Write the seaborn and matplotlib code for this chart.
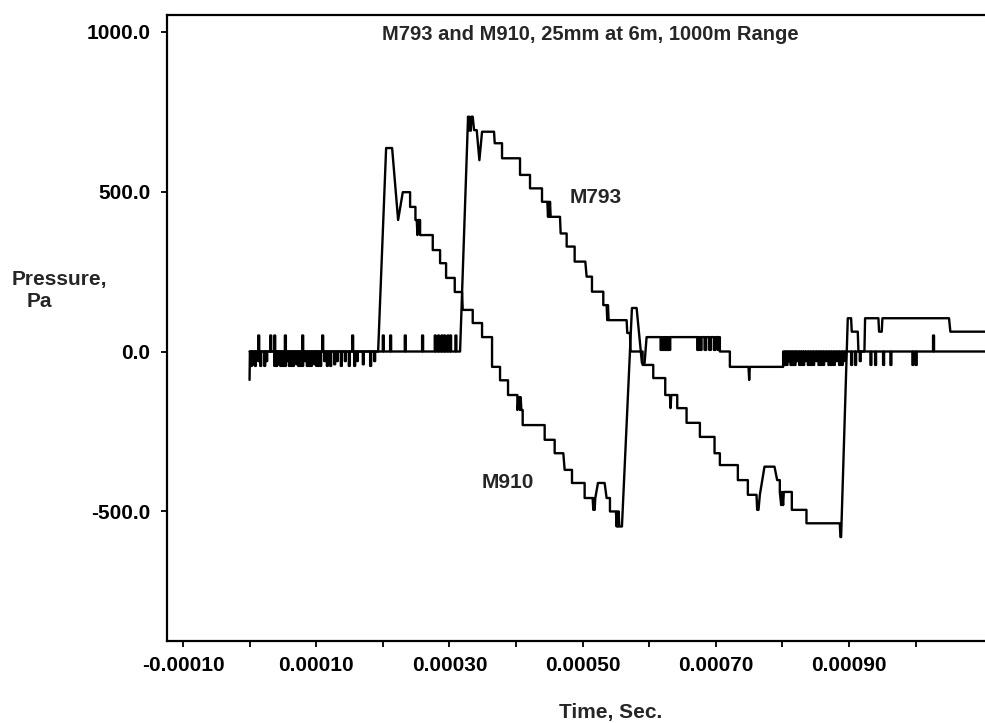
import numpy as np
import pandas as pd
import seaborn as sns
import matplotlib.pyplot as plt

# times in microseconds, pressures in Pa

# M910 - first arrival.  quiet record, then N-wave, then settling
m910_start_t = [0, 0.5]
m910_start_p = [-89, 0]
m910_quiet_spike_t = [2, 5, 8, 13, 16, 22, 25, 37, 40, 43, 46, 50, 53, 56, 59, 62, 65, 70, 73, 76,
                      79, 83, 86, 89, 92, 97, 100, 103, 106, 112, 116, 121, 127, 131, 137, 143, 149,
                      157, 161, 170, 181, 187]
m910_quiet_spike_p = [-45, -40, -45, -30, -45, -45, -30, -45, -45, -40, -45, -45, -45, -30, -45, -45,
                      -45, -40, -45, -45, -45, -30, -45, -45, -45, -40, -45, -45, -45, -30, -45, -45,
                      -40, -30, -45, -30, -45, -45, -30, -40, -45, -30]
m910_wave_t = [193, 205, 214, 223, 230, 241, 241, 249, 249, 251, 252, 253, 256, 256, 275, 275, 286,
               286, 295, 295, 308, 308, 319, 320, 335, 335, 349, 349, 364, 364, 376, 376, 388, 388,
               402, 402, 405, 406, 407, 408, 410, 410, 443, 443, 458, 458, 471, 473, 484, 484, 503,
               503, 515, 516, 517, 518, 519, 523, 533, 536, 541, 541, 550, 551, 552, 553, 554, 555,
               559, 574, 581, 586, 589, 593, 596, 616]
m910_wave_p = [0, 636, 636, 411, 498, 498, 452, 452, 411, 411, 364, 411, 411, 364, 364, 317, 317,
               276, 276, 230, 230, 186, 186, 130, 130, 89, 89, 45, 45, -48, -48, -90, -90, -136,
               -136, -183, -143, -183, -143, -183, -183, -230, -230, -276, -276, -318, -318, -370,
               -370, -411, -411, -458, -458, -495, -458, -495, -458, -411, -411, -458, -458, -500,
               -500, -547, -500, -547, -500, -547, -547, 136, 136, 30, -36, -36, 45, 45]
m910_hold_spike_t = [617, 620, 623, 626, 629, 672, 676, 683, 690, 697, 703]
m910_hold_spike_p = [5, 5, 5, 5, 5, 5, 5, 5, 5, 5, 5]
m910_mid_t = [706, 706, 721, 721, 749, 750, 751, 801, 801]
m910_mid_p = [45, 0, 0, -48, -48, -89, -48, -48, 0]
m910_late_spike_t = [803, 806, 809, 812, 815, 818, 821, 825, 828, 831, 834, 838, 842, 846, 850, 854,
                     857, 861, 865, 869, 873, 877, 881, 885, 889, 893, 903, 909, 916]
m910_late_spike_p = [-42, -42, -30, -42, -42, -42, -30, -42, -42, -42, -30, -42, -42, -42, -30, -42,
                     -42, -42, -30, -42, -42, -42, -30, -42, -42, -30, -42, -42, -30]
m910_end_t = [923, 924, 944, 945, 949, 950, 1050, 1052, 1110]
m910_end_p = [0, 104, 104, 62, 62, 104, 104, 62, 62]

# M793 - second arrival
m793_quiet_spike_t = [13, 31, 37, 53, 79, 109, 154, 200, 211, 233, 259, 278, 283, 288, 292, 297,
                      301, 309]
m793_quiet_spike_p = [50, 50, 50, 50, 50, 50, 50, 50, 50, 50, 50, 50, 50, 50, 50, 50, 50, 50]
m793_wave_t = [316, 328, 329, 330, 332, 333, 335, 337, 341, 345, 349, 367, 368, 379, 379, 406, 406,
               421, 421, 439, 439, 447, 448, 449, 450, 451, 452, 466, 467, 476, 476, 488, 488, 504,
               506, 514, 514, 531, 531, 536, 537, 538, 539, 566, 567, 571, 572, 590, 590, 606, 606,
               624, 624, 631, 632, 633, 642, 642, 656, 656, 676, 676, 698, 698, 706, 706, 733, 733,
               748, 748, 761, 762, 764, 766, 773, 788, 792, 796, 796, 798, 799, 801, 802, 814, 814,
               836, 836, 886, 887, 888, 898, 903, 904, 913, 914]
m793_wave_p = [0, 734, 690, 734, 690, 734, 734, 692, 692, 598, 687, 687, 651, 651, 604, 604, 552,
               552, 510, 510, 468, 468, 421, 468, 421, 468, 421, 421, 369, 369, 328, 328, 281, 281,
               234, 234, 187, 187, 145, 145, 98, 145, 98, 98, 58, 58, 0, 0, -42, -42, -83, -83,
               -136, -136, -177, -136, -136, -177, -177, -223, -223, -267, -267, -318, -318, -355,
               -355, -402, -402, -448, -448, -495, -495, -448, -360, -360, -402, -402, -439, -480,
               -439, -480, -439, -439, -495, -495, -537, -537, -580, -580, 104, 104, 62, 62, 0]
m793_late_spike_t = [932, 939, 951, 962, 995, 1000, 1026]
m793_late_spike_p = [-42, -42, -42, -42, -42, -42, 50]

x_ticks = [-100, 0, 100, 200, 300, 400, 500, 600, 700, 800, 900, 1000]
y_ticks = [-500, 0, 500, 1000]


def flat_with_spikes(t0, t1, level, spike_t, spike_p, width=1.5):
    ts, ps = [t0], [level]
    for st, sp in zip(spike_t, spike_p):
        ts += [st, st, st + width, st + width]
        ps += [level, sp, sp, level]
    ts.append(t1)
    ps.append(level)
    return ts, ps


def build_m910():
    t, p = list(m910_start_t), list(m910_start_p)
    a, b = flat_with_spikes(0.5, 193, 0, m910_quiet_spike_t, m910_quiet_spike_p)
    t += a; p += b
    t += m910_wave_t; p += m910_wave_p
    a, b = flat_with_spikes(616, 706, 45, m910_hold_spike_t, m910_hold_spike_p, width=2.5)
    t += a; p += b
    t += m910_mid_t; p += m910_mid_p
    a, b = flat_with_spikes(801, 923, 0, m910_late_spike_t, m910_late_spike_p)
    t += a; p += b
    t += m910_end_t; p += m910_end_p
    return t, p


def build_m793():
    t, p = flat_with_spikes(0, 316, 0, m793_quiet_spike_t, m793_quiet_spike_p)
    t += m793_wave_t; p += m793_wave_p
    a, b = flat_with_spikes(914, 1110, 0, m793_late_spike_t, m793_late_spike_p)
    t += a; p += b
    return t, p


frames = []
for name, fn in [("M910", build_m910), ("M793", build_m793)]:
    t, p = fn()
    frames.append(pd.DataFrame({"time": np.array(t) / 1e6, "pressure": p, "round": name}))
df = pd.concat(frames, ignore_index=True)

sns.set_theme(style="ticks")
plt.rcParams["font.family"] = ["Liberation Sans", "DejaVu Sans"]

fig = plt.figure(figsize=(9.85, 7.23), dpi=100)
ax = fig.add_axes([0.1695, 0.1134, 0.8305, 0.8659])

for name, g in df.groupby("round", sort=False):
    sns.lineplot(data=g, x="time", y="pressure", sort=False, estimator=None,
                 color="black", lw=1.7, ax=ax, legend=False)

ax.set_xlim(-124e-6, 1104e-6)
ax.set_ylim(-905, 1052)

ax.set_xticks([v / 1e6 for v in x_ticks])
ax.set_xticklabels(["{:.5f}".format(v / 1e6) if i % 2 == 0 else "" for i, v in enumerate(x_ticks)])
ax.set_yticks(y_ticks)
ax.set_yticklabels(["{:.1f}".format(v) for v in y_ticks])
ax.tick_params(axis="both", direction="out", length=4, width=1.3, colors="black", labelsize=15)
ax.tick_params(axis="x", pad=7)
ax.tick_params(axis="y", pad=8)
for lab in ax.get_xticklabels() + ax.get_yticklabels():
    lab.set_fontweight("bold")

for side in ["left", "bottom", "top"]:
    ax.spines[side].set_linewidth(1.6)
    ax.spines[side].set_color("black")
ax.spines["right"].set_visible(False)
ax.set_xlabel("")
ax.set_ylabel("")

ax.text(0.518, 0.968, "M793 and M910, 25mm at 6m, 1000m Range", transform=ax.transAxes,
        ha="center", va="center", fontsize=14.5, fontweight="bold")
ax.text(520e-6, 481, "M793", ha="center", va="center", fontsize=15, fontweight="bold")
ax.text(388e-6, -411, "M910", ha="center", va="center", fontsize=15, fontweight="bold")

fig.text(12 / 985, 1 - 280 / 723, "Pressure,", ha="left", va="center", fontsize=15, fontweight="bold")
fig.text(27 / 985, 1 - 301 / 723, "Pa", ha="left", va="center", fontsize=15, fontweight="bold")
fig.text(611 / 985, 1 - 703 / 723, "Time, Sec.", ha="center", va="top", fontsize=15, fontweight="bold")

fig.savefig("out.png", dpi=100, facecolor="white")
